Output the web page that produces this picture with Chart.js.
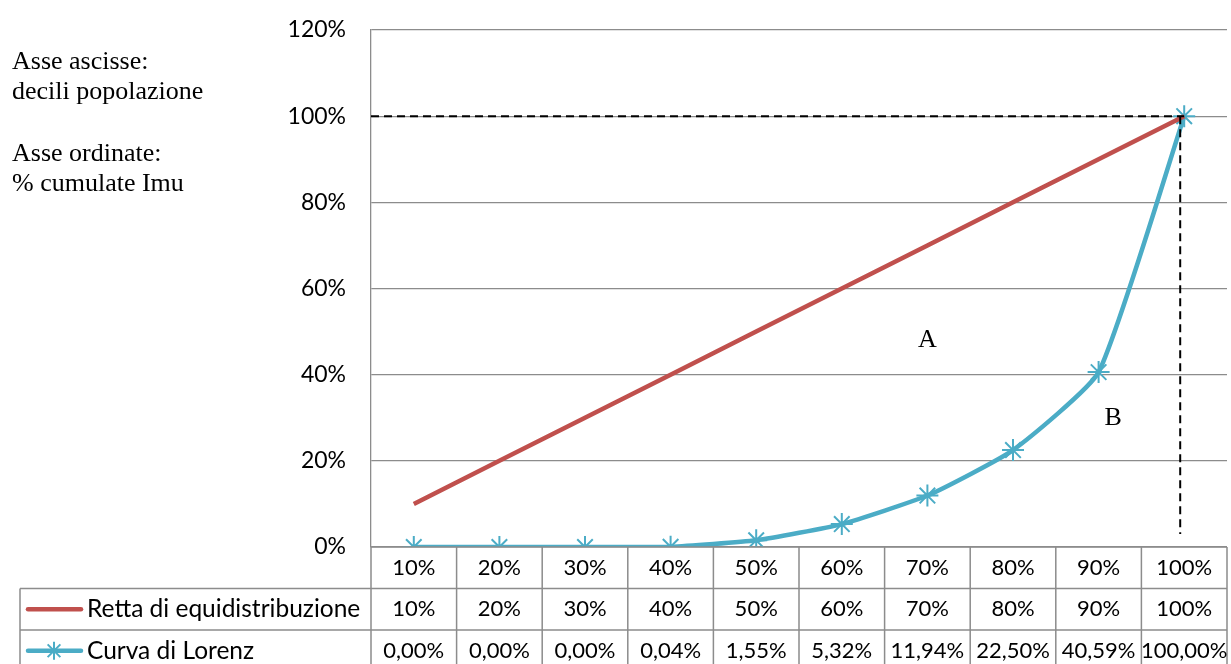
<!DOCTYPE html>
<html>
<head>
<meta charset="utf-8">
<script src="https://cdn.jsdelivr.net/npm/chart.js@4/dist/chart.umd.min.js"></script>
<style>
  body { margin: 0; background: #fff; }
  #wrap { position: relative; width: 1231px; height: 664px; }
  #note {
    position: absolute; left: 12px; top: 46px;
    font-family: "Liberation Serif", "Times New Roman", serif;
    font-size: 26px; line-height: 30px; color: #000;
  }
</style>
</head>
<body>
<div id="wrap">
  <canvas id="myChart" width="1231" height="664"></canvas>
  <div id="note">Asse ascisse:<br>decili popolazione<br><div style="height:32px"></div>Asse ordinate:<br>% cumulate Imu</div>
</div>
<script>
const RED = '#C0504D';
const BLUE = '#4BACC6';
const GRID = '#8c8c8c';
const FONT = 'Lato, "Open Sans", sans-serif';

// deciles of population
const categories = ['10%', '20%', '30%', '40%', '50%', '60%', '70%', '80%', '90%', '100%'];
// line of perfect equality
const equality = [10, 20, 30, 40, 50, 60, 70, 80, 90, 100];
// Lorenz curve, cumulative % of Imu
const lorenz = [0, 0, 0, 0.04, 1.55, 5.32, 11.94, 22.50, 40.59, 100];
const seriesNames = ['Retta di equidistribuzione', 'Curva di Lorenz'];

function pct(v, dec) {
  return v.toFixed(dec).replace('.', ',') + '%';
}

//draws the dashed guide lines, the A / B labels and the data table
const extras = {
  id: 'extras',
  afterDraw(chart) {
    const c = chart.ctx;
    const x = chart.scales.x;
    const y = chart.scales.y;
    const area = chart.chartArea;
    const step = x.getPixelForValue(1) - x.getPixelForValue(0);

    // dashed guides
    c.save();
    c.strokeStyle = '#000';
    c.lineWidth = 2;
    c.setLineDash([8, 5]);
    c.beginPath();
    c.moveTo(area.left, y.getPixelForValue(100));
    c.lineTo(x.getPixelForValue(9), y.getPixelForValue(100));
    c.moveTo(x.getPixelForValue(9) - 4, y.getPixelForValue(100));
    c.lineTo(x.getPixelForValue(9) - 4, y.getPixelForValue(3));
    c.stroke();
    c.restore();

    // area labels
    c.save();
    c.font = '26px "Liberation Serif", serif';
    c.fillStyle = '#000';
    c.textAlign = 'center';
    c.textBaseline = 'middle';
    c.fillText('A', x.getPixelForValue(6), y.getPixelForValue(48));
    c.fillText('B', x.getPixelForValue(8) + step * 0.17, y.getPixelForValue(30));
    c.restore();

    // data table
    const top = area.bottom;
    const rowH = 41.5;
    const left = 20;
    const right = x.getPixelForValue(9) + step / 2;
    c.save();
    c.strokeStyle = GRID;
    c.lineWidth = 1.5;
    c.beginPath();
    c.moveTo(area.left, top);
    c.lineTo(right, top);
    for (let r = 1; r <= 2; r++) {
      c.moveTo(left, top + rowH * r);
      c.lineTo(right, top + rowH * r);
    }
    c.moveTo(left, top + rowH);
    c.lineTo(left, chart.height);
    for (let i = 0; i <= categories.length; i++) {
      const bx = x.getPixelForValue(0) - step / 2 + step * i;
      c.moveTo(bx, top);
      c.lineTo(bx, chart.height);
    }
    c.stroke();

    c.font = '22px ' + FONT;
    c.fillStyle = '#000';
    c.textAlign = 'center';
    c.textBaseline = 'middle';
    categories.forEach((lab, i) => {
      const cx = x.getPixelForValue(i);
      c.fillText(lab, cx, top + rowH * 0.5);
      c.fillText(pct(equality[i], 0), cx, top + rowH * 1.5);
      c.fillText(pct(lorenz[i], 2), cx, top + rowH * 2.5);
    });

    // row headers with legend keys
    c.textAlign = 'left';
    const y1 = top + rowH * 1.5;
    const y2 = top + rowH * 2.5;
    c.lineCap = 'round';
    c.lineWidth = 4.5;
    c.strokeStyle = RED;
    c.beginPath();
    c.moveTo(28, y1);
    c.lineTo(81, y1);
    c.stroke();
    c.strokeStyle = BLUE;
    c.beginPath();
    c.moveTo(28, y2);
    c.lineTo(81, y2);
    c.stroke();
    c.lineWidth = 2;
    c.lineCap = 'butt';
    c.beginPath();
    for (let k = 0; k < 4; k++) {
      const a = k * Math.PI / 4;
      c.moveTo(54 - 9 * Math.cos(a), y2 - 9 * Math.sin(a));
      c.lineTo(54 + 9 * Math.cos(a), y2 + 9 * Math.sin(a));
    }
    c.stroke();
    c.font = '24.5px ' + FONT;
    c.fillText(seriesNames[0], 87, y1);
    c.fillText(seriesNames[1], 87, y2);
    c.restore();
  }
};

var ctx = document.getElementById('myChart');

var chart = new Chart(ctx, {
  type: 'line',
  data: {
    labels: categories,
    datasets: [{
      label: seriesNames[0],
      data: equality,
      borderColor: RED,
      backgroundColor: RED,
      borderWidth: 4.5,
      pointRadius: 0,
      tension: 0
    }, {
      label: seriesNames[1],
      data: lorenz,
      borderColor: BLUE,
      backgroundColor: BLUE,
      borderWidth: 4.5,
      pointStyle: 'star',
      pointRadius: 11,
      pointBorderWidth: 2,
      tension: 0.16
    }]
  },
  options: {
    responsive: false,
    animation: false,
    layout: {
      autoPadding: false,
      padding: { top: 30, right: 4, bottom: 117, left: 0 }
    },
    plugins: {
      legend: { display: false },
      tooltip: { enabled: false }
    },
    scales: {
      x: {
        offset: true,
        afterFit(scale) { scale.height = 0; },
        grid: { display: false, drawTicks: false },
        border: { display: false },
        ticks: { display: false, padding: 0 }
      },
      y: {
        min: 0,
        max: 120,
        afterFit(scale) { scale.width = 371; },
        grid: { color: GRID, lineWidth: 1.3, drawTicks: true, tickLength: 25, tickColor: 'rgba(0,0,0,0)' },
        border: { color: GRID, width: 1.3 },
        ticks: {
          stepSize: 20,
          padding: 0,
          color: '#000',
          font: { family: FONT, size: 23 },
          callback: v => v + '%'
        }
      }
    }
  },
  plugins: [extras]
});
</script>
</body>
</html>
